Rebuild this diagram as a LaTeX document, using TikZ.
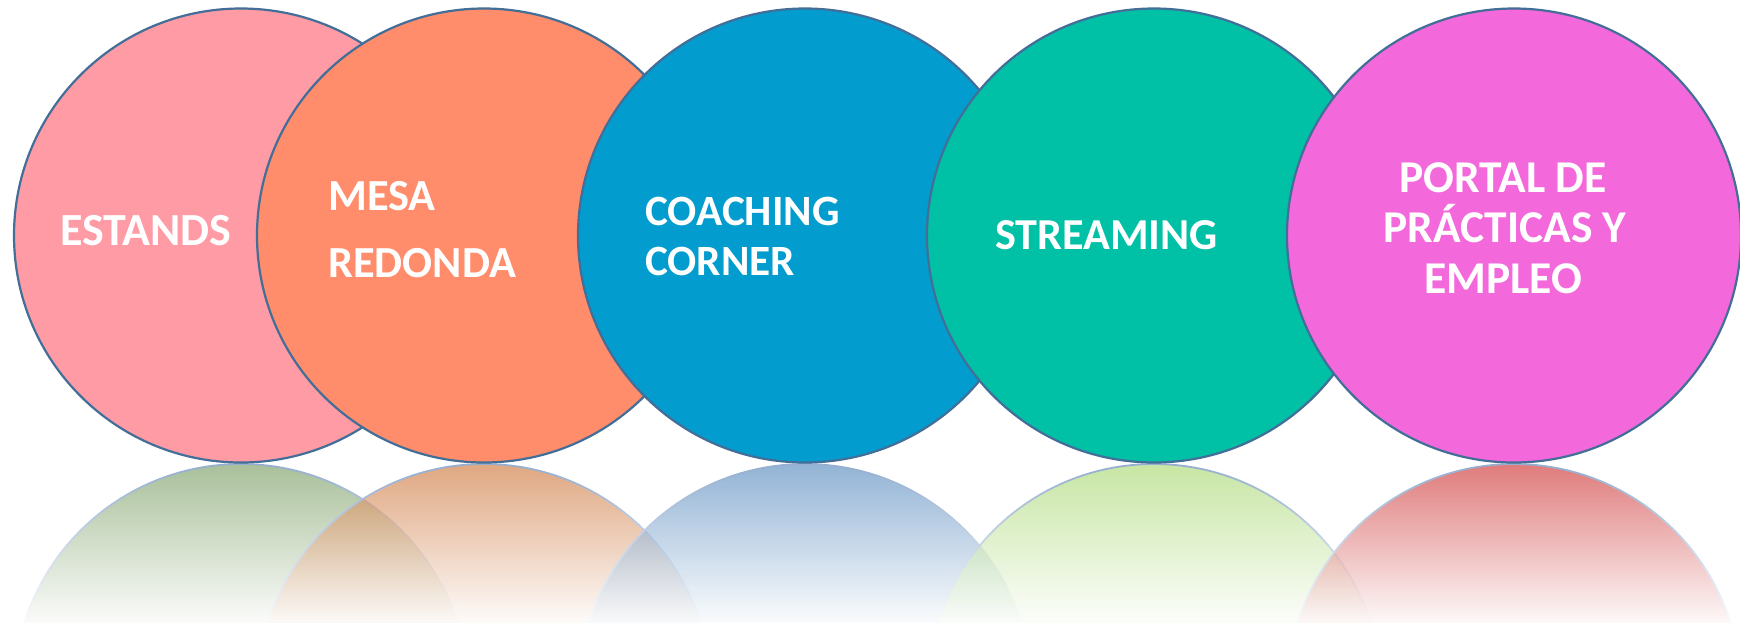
\documentclass[tikz,border=0pt]{standalone}
\usepackage{fontspec}
\setmainfont{Carlito}
\usetikzlibrary{fadings}
\definecolor{edge}{RGB}{66,110,152}
\definecolor{redge}{RGB}{150,175,208}
\definecolor{f1}{RGB}{255,155,165}
\definecolor{f2}{RGB}{255,140,107}
\definecolor{f3}{RGB}{2,156,206}
\definecolor{f4}{RGB}{0,192,166}
\definecolor{f5}{RGB}{243,105,219}
\definecolor{r1}{RGB}{124,159,101}
\definecolor{r2}{RGB}{207,121,63}
\definecolor{r3}{RGB}{90,140,192}
\definecolor{r4}{RGB}{170,217,116}
\definecolor{r5}{RGB}{207,54,54}
\tikzfading[name=reffade, top color=transparent!100, bottom color=transparent!4]
\begin{document}
\begin{tikzpicture}[x=1pt,y=-1pt,
  bubble/.style={circle, minimum size=454pt, inner sep=0pt, draw=edge, line width=2.2pt},
  mirror/.style={circle, minimum size=454pt, inner sep=0pt, draw=redge, line width=1.8pt, fill opacity=0.65},
  lbl/.style={text=white, font=\fontsize{#1}{#1}\selectfont\bfseries, inner sep=0pt},
  lbl/.default=44.5]
\useasboundingbox (0,0) rectangle (1740,622);
\clip (0,0) rectangle (1740,622);
% reflections
\node[mirror, fill=r1] (m1) at (241,691) {};
\node[mirror, fill=r2] (m2) at (484,691) {};
\node[mirror, fill=r3] (m3) at (805,691) {};
\node[mirror, fill=r4] (m4) at (1154,691) {};
\node[mirror, fill=r5] (m5) at (1514,691) {};
\fill[white, path fading=reffade] (0,465) rectangle (1740,623);
% main circles
\node[bubble, fill=f1] (c1) at (241,235.5) {};
\node[bubble, fill=f2] (c2) at (484,235.5) {};
\node[bubble, fill=f3] (c3) at (805,235.5) {};
\node[bubble, fill=f4] (c4) at (1154,235.5) {};
\node[bubble, fill=f5] (c5) at (1514,235.5) {};
% labels
\node[lbl=46, anchor=base west] (t1) at (60,245) {ESTANDS};
\node[lbl=44.4, anchor=base west] (t2a) at (328,210) {MESA};
\node[lbl=44.4, anchor=base west] (t2b) at (328,277) {REDONDA};
\node[lbl=43.2, anchor=base west] (t3a) at (645,225) {COACHING};
\node[lbl=43.2, anchor=base west] (t3b) at (645,275) {CORNER};
\node[lbl=44.2, anchor=base west] (t4) at (995,249) {STREAMING};
\node[lbl=45.5, anchor=base] (t5a) at (1503,192) {PORTAL DE};
\node[lbl=45.5, anchor=base] (t5b) at (1505,242) {PRÁCTICAS Y};
\node[lbl=45.5, anchor=base] (t5c) at (1503,293) {EMPLEO};
\end{tikzpicture}
\end{document}
